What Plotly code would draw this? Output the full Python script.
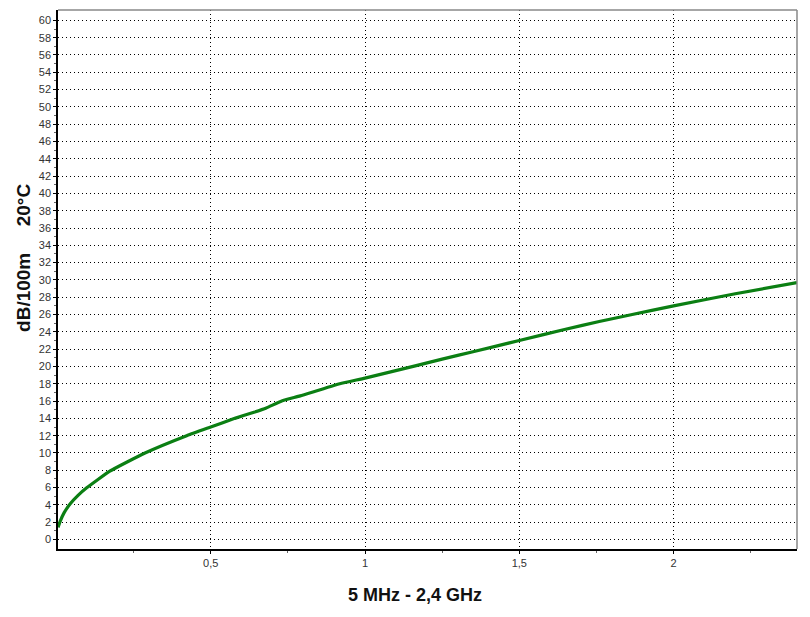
import plotly.graph_objects as go

# Frequency in GHz (5 MHz - 2.4 GHz) and attenuation dB/100m at 20°C
freq_ghz = [0.005, 0.012, 0.025, 0.044, 0.07, 0.099, 0.173, 0.287, 0.422, 0.5, 0.578, 0.64,
            0.68, 0.73, 0.79, 0.918, 1.0, 1.166, 1.25, 1.35, 1.5, 1.65, 1.759, 1.866, 2.0, 2.2, 2.4]
atten_db = [1.4, 2.1, 3.1, 4.1, 5.1, 6.0, 7.9, 10.0, 12.0, 13.0, 14.0, 14.7,
            15.2, 16.0, 16.6, 18.0, 18.65, 20.1, 20.85, 21.7, 23.0, 24.3, 25.2, 26.0, 27.0, 28.4, 29.7]

y_ticks = list(range(0, 61, 2))
x_tickvals = [0.5, 1, 1.5, 2]
x_ticktext = ["0,5", "1", "1,5", "2"]

fig = go.Figure()
fig.add_trace(go.Scatter(x=freq_ghz, y=atten_db, mode="lines",
                         line=dict(color="#0b7f13", width=3.2, shape="spline", smoothing=0.4),
                         hoverinfo="skip"))

fig.update_layout(
    width=810, height=617,
    margin=dict(l=50, r=21, t=2, b=76, autoexpand=False),
    paper_bgcolor="white", plot_bgcolor="white",
    showlegend=False,
    font=dict(family="Liberation Sans, Arial, sans-serif", color="#333333", size=11),
)
fig.update_xaxes(
    range=[0.005, 2.4], tickvals=x_tickvals, ticktext=x_ticktext,
    showgrid=True, gridcolor="black", griddash="1px,3px", gridwidth=1,
    showline=True, linecolor="black", linewidth=1.5,
    ticks="outside", ticklen=3, tickcolor="black",
    minor=dict(tickvals=[0.25, 0.75, 1.25, 1.75, 2.25], ticks="outside", ticklen=2, tickcolor="#666", showgrid=False),
    zeroline=False,
)
fig.update_yaxes(
    range=[-1.1, 61.2], tickvals=y_ticks,
    showgrid=True, gridcolor="black", griddash="1px,3px", gridwidth=1,
    showline=True, linecolor="black", linewidth=1.5,
    ticks="outside", ticklen=3, tickcolor="black",
    minor=dict(tickvals=list(range(1, 61, 2)), ticks="outside", ticklen=2, tickcolor="#666", showgrid=False),
    zeroline=False,
)
# top/right border
fig.add_shape(type="line", xref="paper", yref="paper", x0=0, x1=1, y0=1, y1=1,
              line=dict(color="#888888", width=1.5))
fig.add_shape(type="line", xref="paper", yref="paper", x0=1, x1=1, y0=0, y1=1,
              line=dict(color="#888888", width=1.5))

fig.add_annotation(text="<b>5 MHz - 2,4 GHz</b>", xref="paper", yref="paper",
                   x=0.483, y=-0.0853, xanchor="center", yanchor="middle", showarrow=False,
                   font=dict(family="Liberation Sans, Arial", size=18, color="#111111"))
fig.add_annotation(text="<b>dB/100m\u00a0\u00a0\u00a0\u00a0\u00a020°C</b>", xref="paper", yref="paper",
                   x=-0.046, y=0.54, xanchor="center", yanchor="middle", showarrow=False, textangle=-90,
                   font=dict(family="Liberation Sans, Arial", size=19, color="#111111"))

fig.write_html("out.html")
